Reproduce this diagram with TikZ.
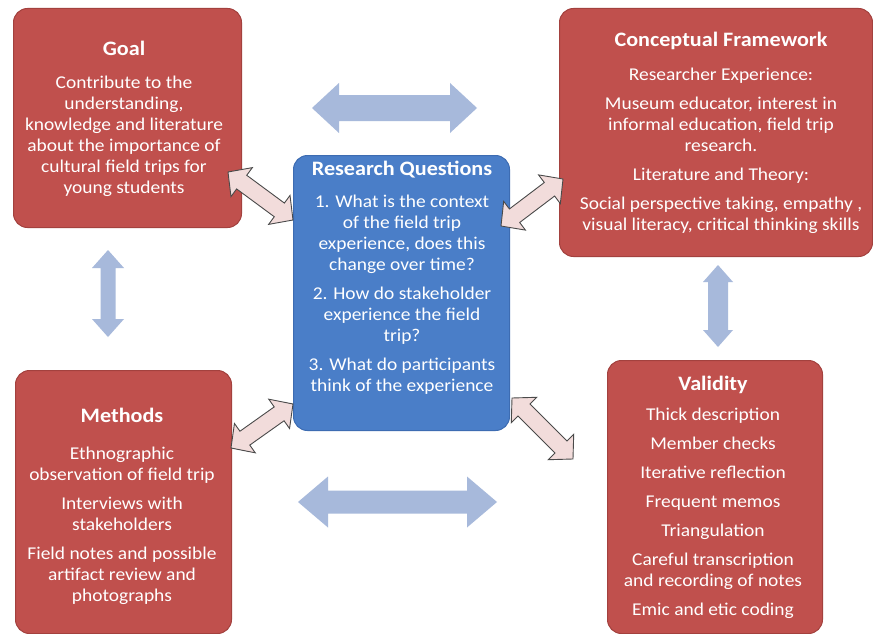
\documentclass[tikz,border=0pt]{standalone}
\usepackage{fontspec}
\setmainfont{Carlito}[FakeStretch=1.08]
\usetikzlibrary{calc}
\definecolor{boxred}{HTML}{C0504D}
\definecolor{redline}{HTML}{A3413E}
\definecolor{boxblue}{HTML}{4A7EC8}
\definecolor{blueline}{HTML}{3D6CB2}
\definecolor{flowblue}{HTML}{A7B9DB}
\definecolor{pinkfill}{HTML}{F2DCDB}
\definecolor{arrowline}{HTML}{4A4A4A}
\tikzset{
  redbox/.style={draw=redline, fill=boxred, rounded corners=14pt, line width=1pt, inner sep=0pt, anchor=north west},
  bluebox/.style={draw=blueline, fill=boxblue, rounded corners=14pt, line width=1pt, inner sep=0pt, anchor=north west},
  boxtitle/.style={font=\fontsize{20.5}{24}\selectfont\bfseries, text=white, inner sep=0pt, anchor=base},
  boxbody/.style={font=\fontsize{18}{21}\selectfont, text=white, align=center, inner sep=0pt, anchor=north},
  linkarrow/.style={fill=pinkfill, draw=arrowline, line width=0.9pt, line join=miter},
  flowarrow/.style={fill=flowblue},
}
% #1 start, #2 end, #3 style, #4 shaft half width, #5 head half width, #6 head length
\newcommand\fatarrow[6]{%
  \path[#3] ($(#1)!#6!(#2)!#5!90:(#2)$) -- (#1) -- ($(#1)!#6!(#2)!#5!-90:(#2)$)
    -- ($(#1)!#6!(#2)!#4!-90:(#2)$) -- ($(#2)!#6!(#1)!#4!90:(#1)$)
    -- ($(#2)!#6!(#1)!#5!90:(#1)$) -- (#2) -- ($(#2)!#6!(#1)!#5!-90:(#1)$)
    -- ($(#2)!#6!(#1)!#4!-90:(#1)$) -- ($(#1)!#6!(#2)!#4!90:(#2)$) -- cycle;}
\begin{document}
\begin{tikzpicture}[x=1pt,y=-1pt]
\useasboundingbox[fill=white] (0,0) rectangle (873,634);

% boxes
\node[redbox, minimum width=228pt, minimum height=219pt] (goal) at (13,8) {};
\node[redbox, minimum width=313pt, minimum height=248pt] (cf) at (559,8) {};
\node[bluebox, minimum width=216pt, minimum height=275pt] (rq) at (293,155) {};
\node[redbox, minimum width=216pt, minimum height=263pt] (meth) at (15,370) {};
\node[redbox, minimum width=215pt, minimum height=273pt] (val) at (607,360) {};

% texts
\node[boxtitle] (goalT) at (124,56) {Goal};
\node[boxbody] (goalB) at (124,75.5) {Contribute to the\\understanding,\\knowledge and literature\\about the importance of\\cultural field trips for\\young students};

\node[boxtitle] (cfT) at (721,47) {Conceptual Framework};
\node[boxbody] (cfB) at (721,67.5) {Researcher Experience:\\[8pt]Museum educator, interest in\\informal education, field trip\\research.\\[8pt]Literature and Theory:\\[8pt]Social perspective taking, empathy ,\\visual literacy, critical thinking skills};

\node[boxtitle] (rqT) at (402,175) {Research Questions};
\node[boxbody] (rqB) at (402,194.5) {1. What is the context\\of the field trip\\experience, does this\\change over time?\\[8pt]2. How do stakeholder\\experience the field\\trip?\\[8pt]3. What do participants\\think of the experience};

\node[boxtitle] (methT) at (122,422) {Methods};
\node[boxbody] (methB) at (122,447) {Ethnographic\\observation of field trip\\[8pt]Interviews with\\stakeholders\\[8pt]Field notes and possible\\artifact review and\\photographs};

\node[boxtitle] (valT) at (713,390) {Validity};
\node[boxbody] (valB) at (713,407.5) {Thick description\\[8pt]Member checks\\[8pt]Iterative reflection\\[8pt]Frequent memos\\[8pt]Triangulation\\[8pt]Careful transcription\\and recording of notes\\[8pt]Emic and etic coding};

% connector end points
\coordinate (gr1) at (228,172);
\coordinate (gr2) at (293,220);
\coordinate (rc1) at (501,226);
\coordinate (rc2) at (563,179);
\coordinate (mr1) at (231,448);
\coordinate (mr2) at (293,404);
\coordinate (rv1) at (512,398);
\coordinate (rv2) at (573,459);
\coordinate (top1) at (312,108);
\coordinate (top2) at (477,108);
\coordinate (bot1) at (298,502);
\coordinate (bot2) at (497,502);
\coordinate (lv1) at (108,250);
\coordinate (lv2) at (108,337);
\coordinate (rvv1) at (718,265);
\coordinate (rvv2) at (718,347);

% blue flow arrows
\fatarrow{top1}{top2}{flowarrow}{13pt}{25pt}{27pt}
\fatarrow{bot1}{bot2}{flowarrow}{11.5pt}{25.5pt}{30pt}
\fatarrow{lv1}{lv2}{flowarrow}{7.5pt}{16pt}{18pt}
\fatarrow{rvv1}{rvv2}{flowarrow}{10pt}{15pt}{17pt}

% pink link arrows
\fatarrow{gr1}{gr2}{linkarrow}{8.5pt}{18pt}{17pt}
\fatarrow{rc1}{rc2}{linkarrow}{8.5pt}{18pt}{17pt}
\fatarrow{mr1}{mr2}{linkarrow}{8.5pt}{18pt}{17pt}
\fatarrow{rv1}{rv2}{linkarrow}{8.5pt}{18pt}{17pt}
\end{tikzpicture}
\end{document}
